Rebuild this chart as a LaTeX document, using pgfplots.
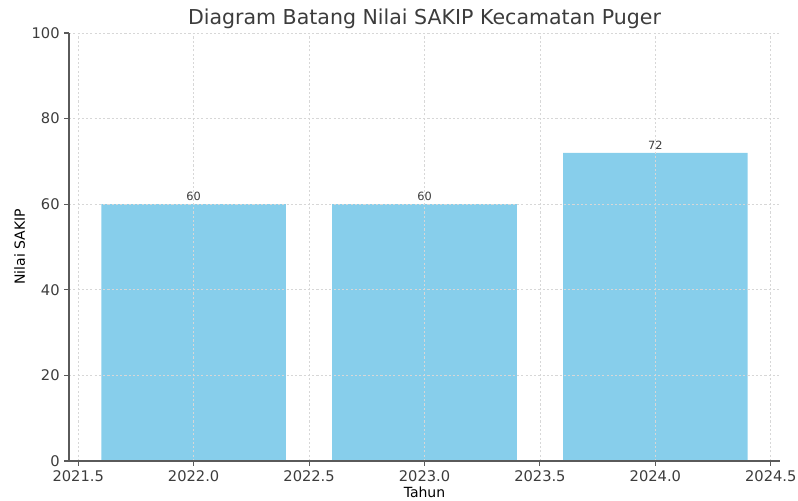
\documentclass[border=0pt]{standalone}
\usepackage{pgfplots}
\pgfplotsset{compat=1.18}
\usepackage{fontspec}
\setmainfont{DejaVu Sans}
\definecolor{skyb}{RGB}{135,206,235}
\definecolor{spine}{RGB}{90,90,90}
\definecolor{txt}{RGB}{60,60,60}
\definecolor{gridc}{RGB}{215,215,215}
\begin{document}
\begin{tikzpicture}
\useasboundingbox (-51.75pt,-29.25pt) rectangle (546.75pt,345.75pt);
\begin{axis}[
  at={(0,0)}, anchor=south west,
  scale only axis, width=533.25pt, height=321pt,
  xmin=2021.46, xmax=2024.54, ymin=0, ymax=100,
  xtick={2021.5,2022,2022.5,2023,2023.5,2024,2024.5},
  xticklabels={2021.5,2022.0,2022.5,2023.0,2023.5,2024.0,2024.5},
  ytick={0,20,40,60,80,100},
  axis lines*=left,
  axis line style={spine, line width=1pt},
  tick style={spine, line width=0.8pt},
  tick align=outside, major tick length=3.5pt,
  tick label style={font=\fontsize{11}{13}\selectfont, text=txt},
  /pgf/number format/assume math mode=true,
  grid=major,
  grid style={gridc, dash pattern=on 1.6pt off 1.6pt, line width=0.6pt},
  axis on top,
  title={Diagram Batang Nilai SAKIP Kecamatan Puger},
  title style={font=\fontsize{15.4}{17}\selectfont, text=txt, yshift=-6pt},
  xlabel={Tahun}, ylabel={Nilai SAKIP},
  label style={font=\fontsize{10.5}{12}\selectfont, text=black},
  xlabel style={yshift=3pt},
  ylabel style={yshift=-2pt},
  ybar, bar width=0.8, bar shift=0pt,
  nodes near coords,
  every node near coord/.append style={font=\fontsize{8.5}{10}\selectfont, text=txt, yshift=-1pt},
]
\addplot[fill=skyb, draw=none] coordinates {(2022,60) (2023,60) (2024,72)};
\end{axis}
\end{tikzpicture}
\end{document}
